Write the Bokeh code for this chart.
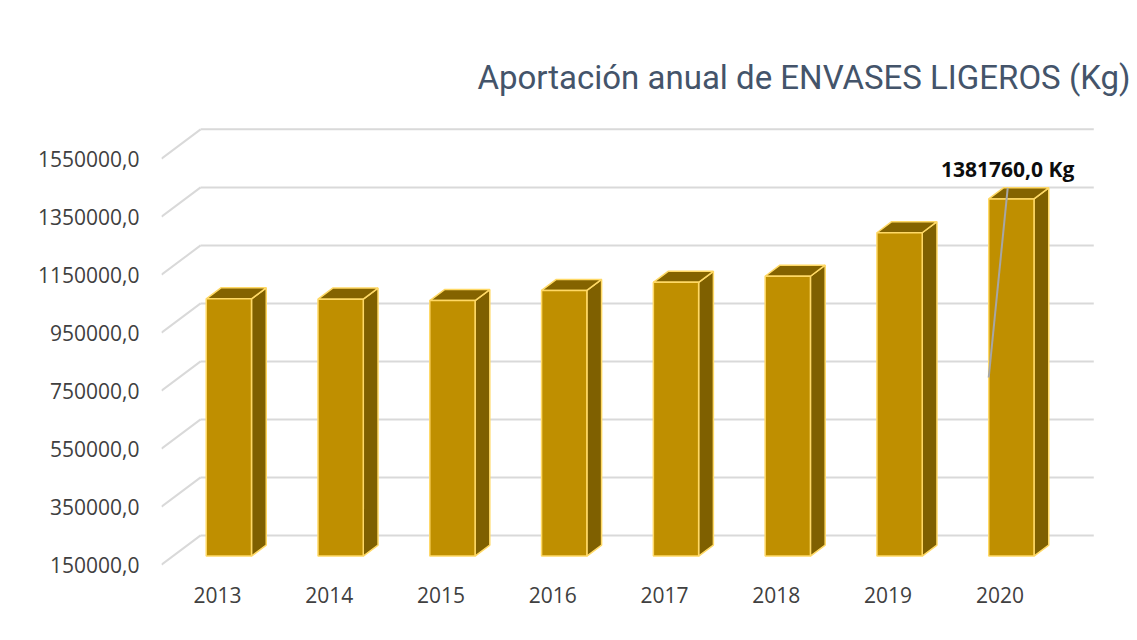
from bokeh.plotting import figure
from bokeh.models import Range1d, FixedTicker, CustomJSTickFormatter
from bokeh.core.properties import value
from bokeh.embed import file_html
from bokeh.resources import INLINE

# ---------------- data ----------------
years = ["2013", "2014", "2015", "2016", "2017", "2018", "2019", "2020"]
kg = [1037000, 1036000, 1031000, 1066000, 1094000, 1115000, 1265000, 1381760]
y_ticks = [150000, 350000, 550000, 750000, 950000, 1150000, 1350000, 1550000]
title_text = "Aportación anual de ENVASES LIGEROS (Kg)"
label_text = "1381760,0 Kg"

# ---------------- pseudo-3D geometry (data units) ----------------
BASE = y_ticks[0]
DX = 0.35        # full depth offset along x (category units)
DY = 101000      # full depth offset along y (value units)
F, B = 0.293, 0.67   # front / back depth of the columns
W = 0.405        # column width
X_END_BACK = 8.34

p = figure(width=1137, height=640,
           x_range=Range1d(0, 8.4), y_range=Range1d(130000, 1681600),
           output_backend="svg", toolbar_location=None,
           min_border_left=161, min_border_right=37,
           min_border_top=120, min_border_bottom=70)
p.background_fill_color = "white"
p.border_fill_color = "white"
p.outline_line_color = None
p.grid.visible = False

# title
p.title.text = title_text
p.title.align = "right"
p.title.text_font = "Roboto"
p.title.text_font_style = "normal"
p.title.text_font_size = "33px"
p.title.text_color = "#44546A"
p.title.standoff = 48
p.title.offset = -30

# axes
centers = [i + 0.5 for i in range(len(years))]
p.xaxis.ticker = FixedTicker(ticks=centers)
p.xaxis.formatter = CustomJSTickFormatter(args=dict(labels=years),
                                          code="return labels[Math.round(tick - 0.5)];")
p.yaxis.ticker = FixedTicker(ticks=y_ticks)
p.yaxis.formatter = CustomJSTickFormatter(code="return tick.toFixed(1).replace('.', ',');")
for ax in (p.xaxis, p.yaxis):
    ax.axis_line_color = None
    ax.major_tick_line_color = None
    ax.minor_tick_line_color = None
    ax.major_label_text_font = "Open Sans"
    ax.major_label_text_font_size = "21px"
    ax.major_label_text_color = "#404040"
p.yaxis.major_label_standoff = 16
p.xaxis.major_label_standoff = 10

# back-wall gridlines and side diagonals
grid_col = "#D9D9D9"
p.multi_line(xs=[[DX, X_END_BACK] for t in y_ticks],
             ys=[[t + DY, t + DY] for t in y_ticks],
             line_color=grid_col, line_width=2)
p.multi_line(xs=[[0, DX] for t in y_ticks],
             ys=[[t, t + DY] for t in y_ticks],
             line_color=grid_col, line_width=2)

# columns
front_xs, front_ys, side_xs, side_ys, top_xs, top_ys = [], [], [], [], [], []
for c, v in zip(centers, kg):
    xl, xr = c - W / 2, c + W / 2
    front_xs.append([xl + F * DX, xr + F * DX, xr + F * DX, xl + F * DX])
    front_ys.append([BASE + F * DY, BASE + F * DY, v + F * DY, v + F * DY])
    side_xs.append([xr + F * DX, xr + B * DX, xr + B * DX, xr + F * DX])
    side_ys.append([BASE + F * DY, BASE + B * DY, v + B * DY, v + F * DY])
    top_xs.append([xl + F * DX, xr + F * DX, xr + B * DX, xl + B * DX])
    top_ys.append([v + F * DY, v + F * DY, v + B * DY, v + B * DY])

edge = "#FFD966"
p.patches(side_xs, side_ys, fill_color="#7F6000", line_color=edge, line_width=1.5)
p.patches(top_xs, top_ys, fill_color="#846300", line_color=edge, line_width=1.5)
p.patches(front_xs, front_ys, fill_color="#BF8F00", line_color=edge, line_width=1.5)

# data label for the last column with leader line
c_last, v_last = centers[-1], kg[-1]
xl_last = c_last - W / 2 + F * DX
p.segment(x0=[xl_last], y0=[(BASE + v_last) / 2 + F * DY],
          x1=[xl_last + 0.17], y1=[v_last + B * DY],
          line_color="#A6A6A6", line_width=2)
p.text(x=[xl_last + 0.17], y=[v_last + B * DY + 66000], text=[label_text],
       text_font=value("Open Sans"), text_font_style="bold",
       text_font_size="21px", text_color="#0D0D0D",
       text_align="center", text_baseline="alphabetic")

open("out.html", "w").write(file_html(p, INLINE))
